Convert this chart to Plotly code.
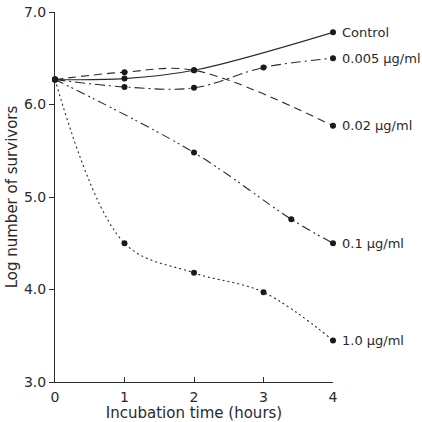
import plotly.graph_objects as go

# Data
control_x = [0, 1, 2, 4]
control_y = [6.27, 6.28, 6.37, 6.78]
c0005_x = [0, 1, 2, 3, 4]
c0005_y = [6.27, 6.19, 6.18, 6.40, 6.50]
c002_x = [0, 1, 2, 4]
c002_y = [6.27, 6.35, 6.37, 5.77]
c01_x = [0, 2, 3.4, 4]
c01_y = [6.27, 5.48, 4.76, 4.50]
c10_x = [0, 1, 2, 3, 4]
c10_y = [6.27, 4.50, 4.18, 3.97, 3.45]

series = [
    ("Control", control_x, control_y, "solid"),
    ("0.005 µg/ml", c0005_x, c0005_y, "10px,4px,2px,4px"),
    ("0.02 µg/ml", c002_x, c002_y, "8px,5px"),
    ("0.1 µg/ml", c01_x, c01_y, "9px,4px,2px,3px,2px,4px"),
    ("1.0 µg/ml", c10_x, c10_y, "2px,3px"),
]

y_ticks = [3.0, 4.0, 5.0, 6.0, 7.0]
y_tick_labels = ["3.0", "4.0", "5.0", "6.0", "7.0"]
x_ticks = [0, 1, 2, 3, 4]
x_tick_labels = ["0", "1", "2", "3", "4"]

FONT = "DejaVu Sans"
INK = "#2a2a2a"

fig = go.Figure()
for name, xs, ys, dash in series:
    fig.add_trace(go.Scatter(
        x=xs, y=ys, mode="lines+markers", name=name,
        line=dict(color=INK, width=1.1, dash=dash, shape="spline", smoothing=1.0),
        marker=dict(color="#1a1a1a", size=6),
        cliponaxis=False, showlegend=False,
    ))
    fig.add_annotation(
        x=xs[-1], y=ys[-1], text=name, showarrow=False,
        xanchor="left", yanchor="middle", xshift=7,
        font=dict(family=FONT, size=13, color=INK),
    )

fig.update_layout(
    width=422, height=422,
    margin=dict(l=55, r=89, t=12, b=40),
    paper_bgcolor="white", plot_bgcolor="white",
    font=dict(family=FONT, color=INK),
)
fig.update_xaxes(
    range=[0, 4], tickvals=x_ticks, ticktext=x_tick_labels, automargin=False,
    showgrid=False, zeroline=False, showline=True, linecolor=INK, linewidth=1,
    ticks="inside", ticklen=5, tickcolor=INK, ticklabelstandoff=2,
    tickfont=dict(family=FONT, size=14, color=INK),
    title=dict(text="Incubation time (hours)", font=dict(family=FONT, size=15, color=INK), standoff=5),
)
fig.update_yaxes(
    range=[3, 7], tickvals=y_ticks, ticktext=y_tick_labels, automargin=False,
    showgrid=False, zeroline=False, showline=True, linecolor=INK, linewidth=1,
    ticks="outside", ticklen=5, tickcolor=INK,
    tickfont=dict(family=FONT, size=14, color=INK),
    title=dict(text="Log number of survivors", font=dict(family=FONT, size=15, color=INK), standoff=2),
)

fig.write_html("out.html")
